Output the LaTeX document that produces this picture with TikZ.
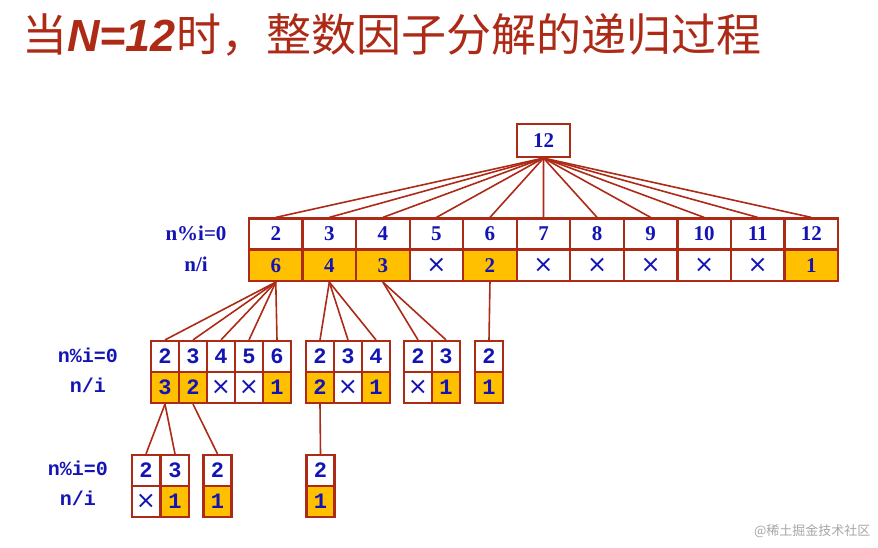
\documentclass[tikz,border=0pt]{standalone}
\usepackage{fontspec}
\setmainfont{Liberation Serif}
\setmonofont{Liberation Mono}
\newfontfamily\cjk{Noto Sans CJK SC}
\newfontfamily\djfont{DejaVu Sans}
\newfontfamily\lsans{Liberation Sans}
\definecolor{frame}{RGB}{172,42,22}
\definecolor{fillo}{RGB}{255,192,0}
\definecolor{numb}{RGB}{20,20,180}
\tikzset{
 cellb/.style={draw=frame,line width=2.2pt,minimum width=#1,minimum height=31pt,inner sep=0pt,text=numb,font=\bfseries\fontsize{21}{21}\selectfont},
 cellt/.style={draw=frame,line width=2.2pt,minimum width=#1,minimum height=31pt,inner sep=0pt,text=numb,font=\ttfamily\bfseries\fontsize{22}{22}\selectfont},
 yes/.style={fill=fillo},
 conn/.style={draw=frame,line width=1.6pt},
 lab/.style={text=numb,font=\bfseries\fontsize{21}{21}\selectfont},
 labt/.style={text=numb,font=\ttfamily\bfseries\fontsize{20}{20}\selectfont},
}
\def\xmark{x}
\newcommand\xx{{\djfont\mdseries\fontsize{24}{24}\selectfont ×}}
\begin{document}
\begin{tikzpicture}[x=1pt,y=-1pt]
\useasboundingbox (0,0) rectangle (878,548);
\node[anchor=west,text=frame,font=\cjk\fontsize{45}{45}\selectfont,inner sep=0pt] (title) at (22,35) {当{\lsans\bfseries\itshape N=12}时，整数因子分解的递归过程};
\node[text=gray!70,font=\cjk\fontsize{13}{13}\selectfont,anchor=east] (wm) at (874,531) {@稀土掘金技术社区};
% root
\node[cellb=53pt,minimum height=33pt] (r) at (543.5,140.5) {12};
% level 1
\node[lab] (l1a) at (196,233) {n\%i=0};
\node[lab] (l1b) at (196,264) {n/i};
\foreach \v/\w [count=\k] in {2/6,3/4,4/3,5/x,6/2,7/x,8/x,9/x,10/x,11/x,12/1}{
  \pgfmathsetmacro\cx{249+53.55*(\k-0.5)}
  \node[cellb=53.55pt] (a\k) at (\cx,234) {\v};
  \ifx\w\xmark \node[cellb=53.55pt] (b\k) at (\cx,265.5) {\xx};
  \else \node[cellb=53.55pt,yes] (b\k) at (\cx,265.5) {\w}; \fi
  \draw[conn] (r.south) -- (a\k.north);
}
% level 2
\node[labt] (l2a) at (88,355) {n\%i=0};
\node[labt] (l2b) at (88,385) {n/i};
\foreach \v/\w/\xs/\idx/\p [count=\k] in {2/3/151/1/1,3/2/151/2/1,4/x/151/3/1,5/x/151/4/1,6/1/151/5/1,2/2/306/1/2,3/x/306/2/2,4/1/306/3/2,2/x/404/1/3,3/1/404/2/3,2/1/475/1/5}{
  \pgfmathsetmacro\cx{\xs+28*(\idx-0.5)}
  \node[cellt=28pt] (c\k) at (\cx,356.5) {\v};
  \ifx\w\xmark \node[cellt=28pt] (d\k) at (\cx,387.5) {\xx};
  \else \node[cellt=28pt,yes] (d\k) at (\cx,387.5) {\w}; \fi
  \draw[conn] (b\p.south) -- (c\k.north);
}
% level 3
\node[labt] (l3a) at (78,468) {n\%i=0};
\node[labt] (l3b) at (78,498) {n/i};
\foreach \v/\w/\cx/\p [count=\k] in {2/x/146/1,3/1/175/1,2/1/217.5/2,2/1/320.5/6}{
  \node[cellt=28pt] (e\k) at (\cx,470.5) {\v};
  \ifx\w\xmark \node[cellt=28pt] (f\k) at (\cx,501.5) {\xx};
  \else \node[cellt=28pt,yes] (f\k) at (\cx,501.5) {\w}; \fi
  \draw[conn] (d\p.south) -- (e\k.north);
}
\end{tikzpicture}
\end{document}
